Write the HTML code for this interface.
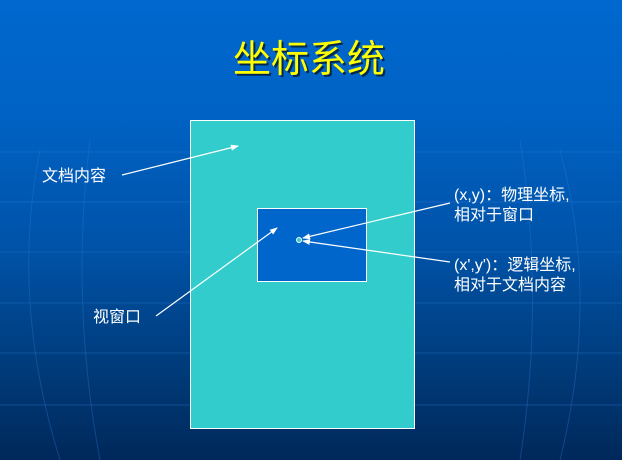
<!DOCTYPE html>
<html><head><meta charset="utf-8"><style>
body{margin:0;width:622px;height:460px;overflow:hidden;background:linear-gradient(#0068cf 0%,#0062c4 25%,#0052a6 55%,#003b7a 80%,#00285a 100%);font-family:"Liberation Sans","Noto Sans CJK SC",sans-serif;position:relative}
.t{position:absolute;color:#fff;font-size:16px;line-height:20px;white-space:nowrap}
</style></head><body>
<svg width="622" height="460" style="position:absolute;left:0;top:0">
<g stroke="#2a7ad8" stroke-opacity="0.35" fill="none" stroke-width="1">
<line x1="0" y1="152" x2="622" y2="152"/><line x1="0" y1="202" x2="622" y2="202"/>
<line x1="0" y1="252" x2="622" y2="252"/><line x1="0" y1="303" x2="622" y2="303"/>
<line x1="0" y1="353" x2="622" y2="353"/><line x1="0" y1="405" x2="622" y2="405"/>
<path d="M40 150 Q10 300 60 460"/><path d="M90 140 Q70 300 100 460"/><path d="M560 150 Q600 300 560 460"/><path d="M520 140 Q545 300 520 460"/>
</g>
<rect x="190.5" y="120.5" width="224" height="308" fill="#33cccc" stroke="#fff" stroke-width="1"/>
<rect x="257.5" y="208.5" width="109" height="73" fill="#0066cc" stroke="#fff" stroke-width="1"/>
<circle cx="299" cy="240" r="2.5" fill="#33cccc" stroke="#fff" stroke-width="1"/>
<defs><marker id="a" markerWidth="8" markerHeight="6" refX="7" refY="3" orient="auto" markerUnits="userSpaceOnUse"><path d="M0 0L8 3L0 6z" fill="#fff"/></marker></defs>
<g stroke="#fff" stroke-width="1.2" marker-end="url(#a)">
<line x1="122" y1="175" x2="238" y2="146"/>
<line x1="156" y1="316" x2="277" y2="228"/>
<line x1="450" y1="203" x2="303" y2="238"/>
<line x1="450" y1="262" x2="303" y2="241"/>
</g>
<text x="311" y="74" text-anchor="middle" font-size="38" fill="#000" opacity="0.6" font-family="Liberation Sans,Noto Sans CJK SC,sans-serif">坐标系统</text>
<text x="309" y="72" text-anchor="middle" font-size="38" fill="#ffff00" font-family="Liberation Sans,Noto Sans CJK SC,sans-serif">坐标系统</text>
</svg>
<div class="t" style="left:42px;top:167px">文档内容</div>
<div class="t" style="left:93px;top:308px">视窗口</div>
<div class="t" style="left:454px;top:186px">(x,y)：物理坐标,<br>相对于窗口</div>
<div class="t" style="left:454px;top:256px">(x',y')：逻辑坐标,<br>相对于文档内容</div>
</body></html>
